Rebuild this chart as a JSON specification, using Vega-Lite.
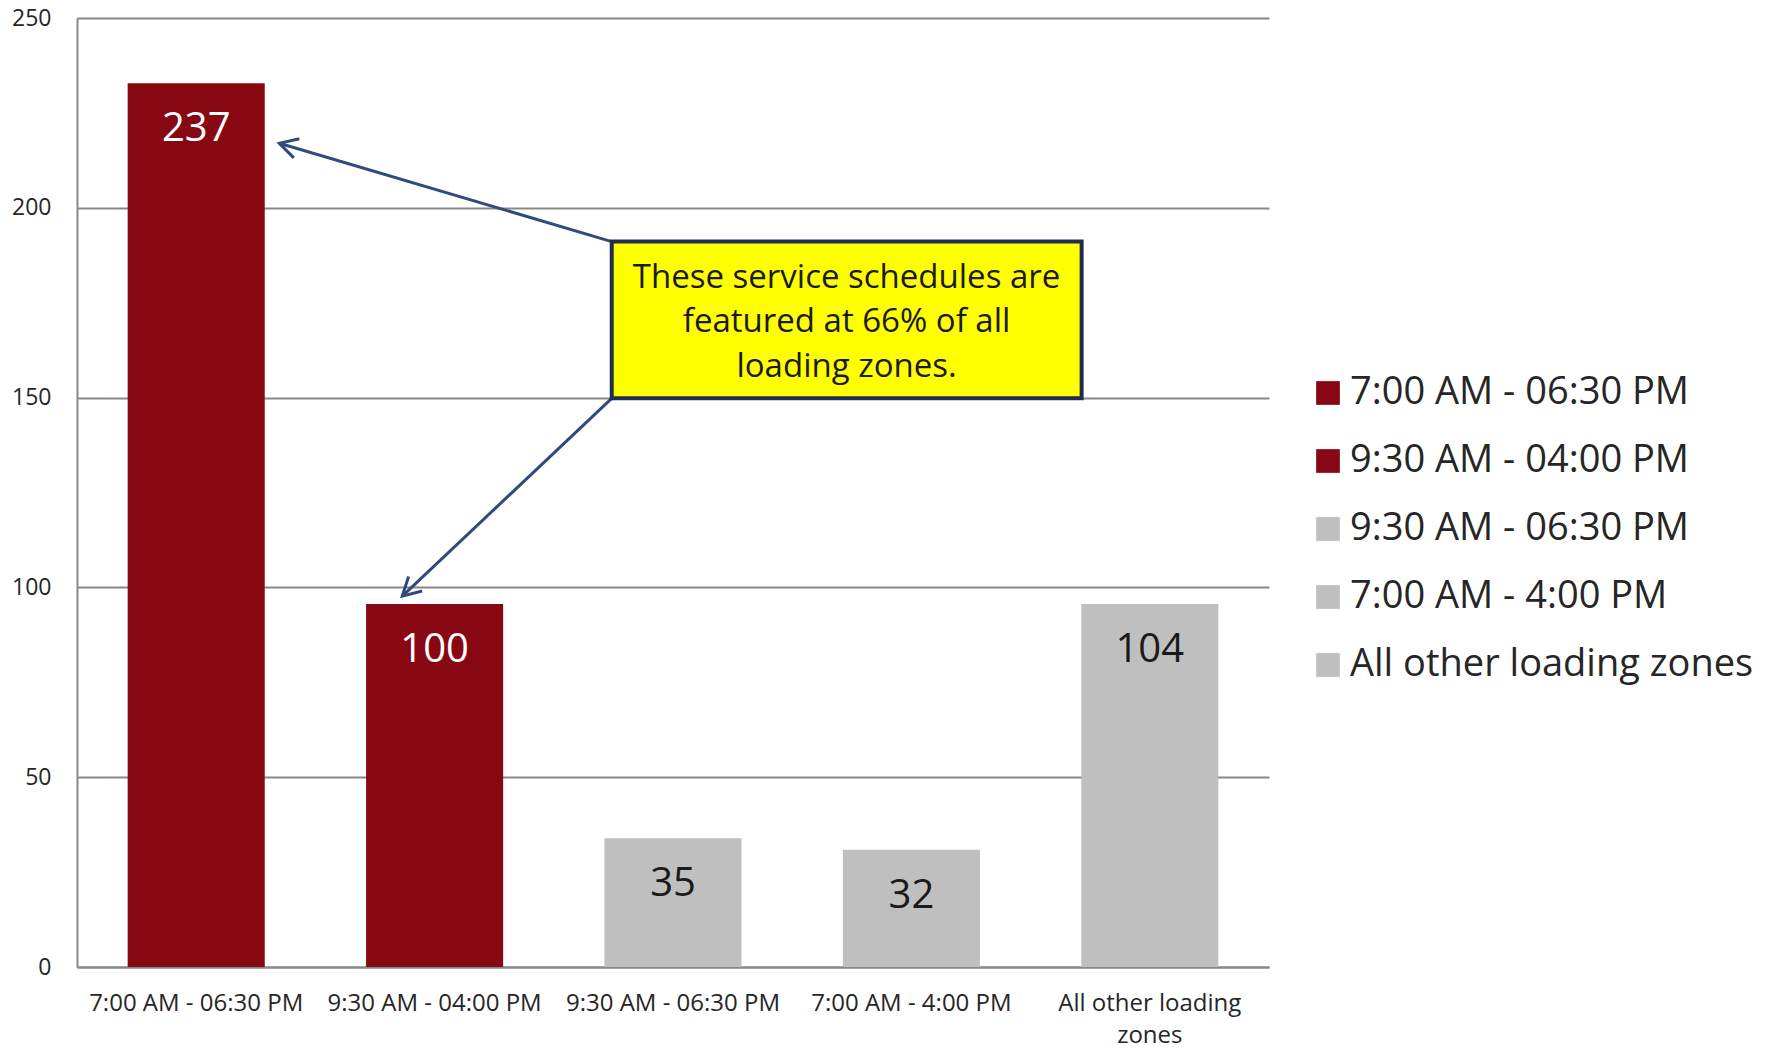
{
  "$schema": "https://vega.github.io/schema/vega-lite/v6.json",
  "autosize": {"type": "none"},
  "padding": {"left": 77, "top": 18, "right": 498, "bottom": 81},
  "width": 1192,
  "height": 949,
  "background": "white",
  "config": {
    "view": {"stroke": null},
    "font": "Open Sans"
  },
  "datasets": {
    "bars": [
      {"category": "7:00 AM - 06:30 PM", "count": 232.8, "label": "237", "featured": true},
      {"category": "9:30 AM - 04:00 PM", "count": 95.6, "label": "100", "featured": true},
      {"category": "9:30 AM - 06:30 PM", "count": 33.9, "label": "35", "featured": false},
      {"category": "7:00 AM - 4:00 PM", "count": 30.9, "label": "32", "featured": false},
      {"category": "All other loading zones", "count": 95.6, "label": "104", "featured": false}
    ],
    "callout": [
      {"x": 2.243, "x2": 4.214, "y": 149.8, "y2": 191.1, "text": "These service schedules are\nfeatured at 66% of all\nloading zones.", "tx": 3.228, "ty": 178.9}
    ],
    "arrows": [
      {"x": 2.243, "y": 191.1, "x2": 0.8486, "y2": 217.0, "target": "7:00 AM - 06:30 PM"},
      {"x": 2.243, "y": 149.8, "x2": 1.3645, "y2": 97.7, "target": "9:30 AM - 04:00 PM"}
    ]
  },
  "resolve": {"scale": {"x": "independent", "y": "independent"}, "axis": {"x": "independent", "y": "independent"}},
  "layer": [
    {
      "data": {"name": "bars"},
      "encoding": {
        "x": {
          "field": "category",
          "type": "nominal",
          "sort": null,
          "scale": {"paddingInner": 0.425, "paddingOuter": 0.2125},
          "axis": {
            "title": null,
            "labelAngle": 0,
            "labelFont": "Open Sans",
            "labelFontSize": 24,
            "labelColor": "#262626",
            "labelPadding": 24,
            "labelLimit": 400,
            "labelLineHeight": 32,
            "labelExpr": "datum.label == 'All other loading zones' ? ['All other loading', 'zones'] : datum.label",
            "ticks": false,
            "domainColor": "#888888",
            "domainWidth": 2
          }
        },
        "y": {
          "field": "count",
          "type": "quantitative",
          "scale": {"domain": [0, 250], "nice": false},
          "axis": {
            "title": null,
            "values": [0, 50, 100, 150, 200, 250],
            "labelFont": "Open Sans",
            "labelFontSize": 23,
            "labelColor": "#262626",
            "labelPadding": 26,
            "ticks": false,
            "domainColor": "#888888",
            "domainWidth": 2,
            "gridColor": "#888888",
            "gridWidth": 2,
            "grid": true
          }
        }
      },
      "layer": [
        {
          "mark": {"type": "bar"},
          "encoding": {
            "color": {
              "field": "category",
              "type": "nominal",
              "scale": {
                "domain": ["7:00 AM - 06:30 PM", "9:30 AM - 04:00 PM", "9:30 AM - 06:30 PM", "7:00 AM - 4:00 PM", "All other loading zones"],
                "range": ["#870812", "#870812", "#bfbfbf", "#bfbfbf", "#bfbfbf"]
              },
              "legend": {
                "title": null,
                "orient": "none",
                "legendX": 1232,
                "legendY": 356,
                "symbolType": "square",
                "symbolSize": 562,
                "symbolStrokeWidth": 0,
                "labelFont": "Open Sans",
                "labelFontSize": 38,
                "labelColor": "#262626",
                "labelOffset": 3,
                "labelLimit": 600,
                "rowPadding": 30
              }
            }
          }
        },
        {
          "mark": {"type": "text", "fontSize": 40, "font": "Open Sans", "baseline": "alphabetic", "align": "center", "dy": 58},
          "encoding": {
            "text": {"field": "label"},
            "color": {"condition": {"test": "datum.featured", "value": "#ffffff"}, "value": "#1a1a1a"}
          }
        }
      ]
    },
    {
      "layer": [
        {
          "data": {"name": "arrows"},
          "mark": {"type": "rule", "color": "#2f4b7c", "strokeWidth": 3},
          "encoding": {
            "x": {"field": "x", "type": "quantitative", "scale": {"domain": [0, 5], "nice": false, "zero": false}, "axis": null},
            "x2": {"field": "x2"},
            "y": {"field": "y", "type": "quantitative", "scale": {"domain": [0, 250], "nice": false}, "axis": null},
            "y2": {"field": "y2"}
          }
        },
        {
          "data": {"name": "arrows"},
          "transform": [{"filter": "datum.target == '7:00 AM - 06:30 PM'"}],
          "mark": {"type": "point", "shape": "M-1,-0.55L0,0L-1,0.55", "size": 1296, "filled": false, "stroke": "#2f4b7c", "strokeWidth": 3, "angle": 196.3, "opacity": 1},
          "encoding": {
            "x": {"field": "x2", "type": "quantitative", "scale": {"domain": [0, 5], "nice": false, "zero": false}, "axis": null},
            "y": {"field": "y2", "type": "quantitative", "scale": {"domain": [0, 250], "nice": false}, "axis": null}
          }
        },
        {
          "data": {"name": "arrows"},
          "transform": [{"filter": "datum.target == '9:30 AM - 04:00 PM'"}],
          "mark": {"type": "point", "shape": "M-1,-0.55L0,0L-1,0.55", "size": 1296, "filled": false, "stroke": "#2f4b7c", "strokeWidth": 3, "angle": 136.65, "opacity": 1},
          "encoding": {
            "x": {"field": "x2", "type": "quantitative", "scale": {"domain": [0, 5], "nice": false, "zero": false}, "axis": null},
            "y": {"field": "y2", "type": "quantitative", "scale": {"domain": [0, 250], "nice": false}, "axis": null}
          }
        },
        {
          "data": {"name": "callout"},
          "mark": {"type": "rect", "fill": "#ffff00", "stroke": "#1f2d4f", "strokeWidth": 4},
          "encoding": {
            "x": {"field": "x", "type": "quantitative", "scale": {"domain": [0, 5], "nice": false, "zero": false}, "axis": null},
            "x2": {"field": "x2"},
            "y": {"field": "y", "type": "quantitative", "scale": {"domain": [0, 250], "nice": false}, "axis": null},
            "y2": {"field": "y2"}
          }
        },
        {
          "data": {"name": "callout"},
          "mark": {"type": "text", "font": "Open Sans", "fontSize": 33, "lineHeight": 44.5, "lineBreak": "\n", "align": "center", "baseline": "alphabetic", "color": "#1a1a1a"},
          "encoding": {
            "x": {"field": "tx", "type": "quantitative", "scale": {"domain": [0, 5], "nice": false, "zero": false}, "axis": null},
            "y": {"field": "ty", "type": "quantitative", "scale": {"domain": [0, 250], "nice": false}, "axis": null},
            "text": {"field": "text"}
          }
        }
      ]
    }
  ]
}
